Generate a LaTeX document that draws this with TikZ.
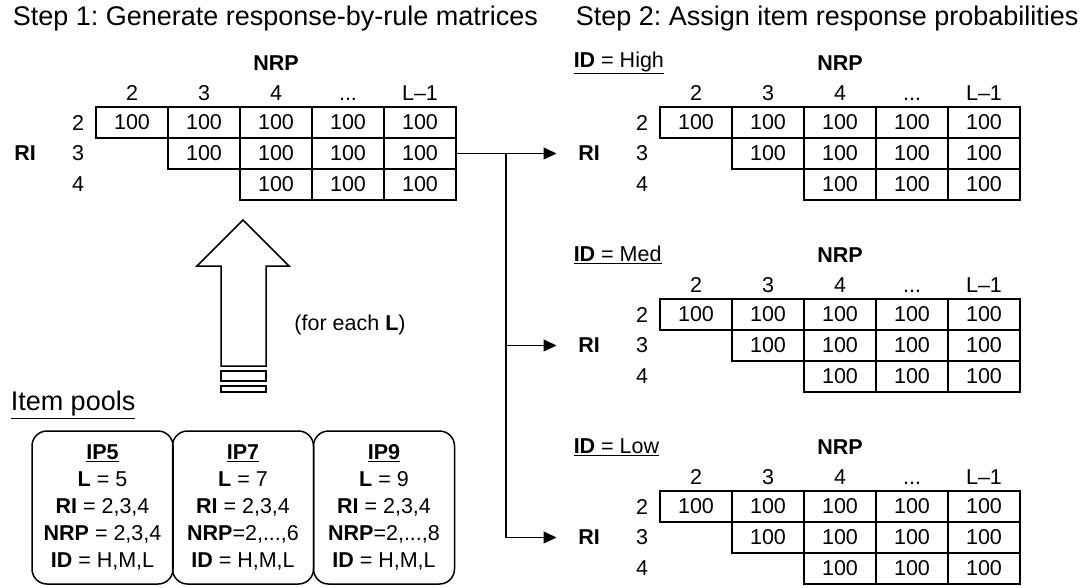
\documentclass[tikz,border=0pt]{standalone}
\usepackage{fontspec}
\setmainfont{Liberation Sans}
\usetikzlibrary{arrows.meta}
\frenchspacing

\begin{document}
\begin{tikzpicture}[x=1pt,y=-1pt,line width=1.5pt,
  every node/.style={font=\fontsize{21.5}{27}\selectfont,inner sep=0pt},
  title/.style={font=\fontsize{27}{32}\selectfont,anchor=west},
  cell/.style={draw,rectangle,minimum width=72pt,minimum height=31pt},
  pool/.style={draw,rectangle,rounded corners=15pt,minimum width=141pt,minimum height=153pt,align=center},
  link/.style={-{Triangle[length=13pt,width=12pt]},shorten >=21pt}]
\useasboundingbox (0,0) rectangle (1088,587);

\node [title] (step1) at(12,19) {Step 1: Generate response-by-rule matrices};
\node [title] (step2) at(575,19) {Step 2: Assign item response probabilities};

% matrices: 0 = step 1, 1-3 = ID levels
\foreach \t/\ox/\oy in {0/96/107,1/660/107,2/660/299,3/660/491}{
  \node (nrp\t) at(\ox+180,\oy-44) {\textbf{NRP}};
  \node (ri\t) at(\ox-71,\oy+46.5) {\textbf{RI}};
  \foreach \c/\h in {1/2,2/3,3/4,4/{.{}.{}.},5/L--1}
    \node [anchor=base] (h\t-\c) at(\ox+72*\c-36,\oy-6.5) {\h};
  \foreach \r/\lab in {1/2,2/3,3/4}{
    \node (r\t-\r) at(\ox-18,\oy+31*\r-15.5) {\lab};
    \foreach \c in {\r,...,5}
      \node [cell] (m\t-\r-\c) at(\ox+72*\c-36,\oy+31*\r-15.5) {100};
  }
}

\node [anchor=west] (id1) at(573,63) {\underline{\textbf{ID} = High}};
\node [anchor=west] (id2) at(573,255) {\underline{\textbf{ID} = Med}};
\node [anchor=west] (id3) at(573,447) {\underline{\textbf{ID} = Low}};

% fan out to the three ID levels
\coordinate (split) at(506,153.5);
\draw [link] (m0-2-5.east) -- (ri1.west);
\draw [link] (split) |- (ri2.west);
\draw [link] (split) |- (ri3.west);

% hollow arrow from the pools
\draw (221,366) -- (221,266) -- (197,266) -- (243,220) -- (289,266) -- (266,266) -- (266,366) -- cycle;
\draw (221,371) rectangle (266,381);
\draw (221,386) rectangle (266,392);
\node (each) at(350,325) {(for each \textbf{L})};

\node [title] (pools) at(10,405) {\underline{Item pools}};
\node [pool] (ip5) at(102.5,507.5) {\underline{\textbf{IP5}}\\ \textbf{L} = 5\\ \textbf{RI} = 2,3,4\\ \textbf{NRP} = 2,3,4\\ \textbf{ID} = H,M,L};
\node [pool] (ip7) at(243,507.5) {\underline{\textbf{IP7}}\\ \textbf{L} = 7\\ \textbf{RI} = 2,3,4\\ \textbf{NRP}=2,...,6\\ \textbf{ID} = H,M,L};
\node [pool] (ip9) at(384,507.5) {\underline{\textbf{IP9}}\\ \textbf{L} = 9\\ \textbf{RI} = 2,3,4\\ \textbf{NRP}=2,...,8\\ \textbf{ID} = H,M,L};
\end{tikzpicture}
\end{document}
